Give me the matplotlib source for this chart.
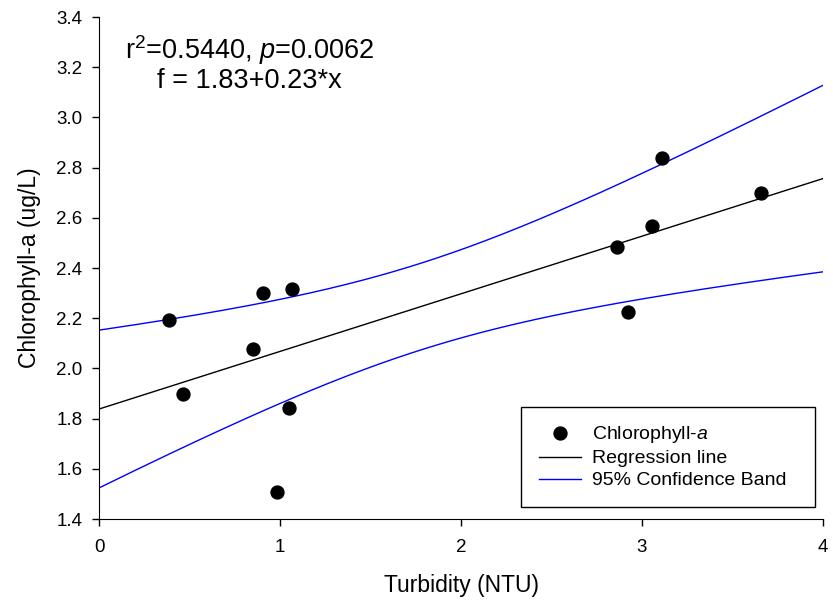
import numpy as np
import matplotlib
matplotlib.use('Agg')
import matplotlib.pyplot as plt

plt.rcParams['font.family'] = ['Liberation Sans', 'DejaVu Sans']
plt.rcParams['mathtext.fontset'] = 'custom'
plt.rcParams['mathtext.rm'] = 'Liberation Sans'
plt.rcParams['mathtext.it'] = 'Liberation Sans:italic'

# data
turbidity = [0.388, 0.462, 0.849, 0.906, 1.065, 1.051, 0.985,
             2.860, 3.054, 3.109, 2.921, 3.659]
chla = [2.193, 1.897, 2.078, 2.299, 2.316, 1.842, 1.509,
        2.485, 2.569, 2.838, 2.226, 2.698]
xticks = [0, 1, 2, 3, 4]
yticks = [1.4, 1.6, 1.8, 2.0, 2.2, 2.4, 2.6, 2.8, 3.0, 3.2, 3.4]

x = np.array(turbidity)
y = np.array(chla)
n = len(x)

# linear fit + 95% confidence band of the mean
b, a = np.polyfit(x, y, 1)
resid = y - (a + b * x)
s = np.sqrt(np.sum(resid ** 2) / (n - 2))
t95 = 2.228  # t(0.975, df=10)
xx = np.linspace(0, 4, 200)
yy = a + b * xx
se = s * np.sqrt(1.0 / n + (xx - x.mean()) ** 2 / np.sum((x - x.mean()) ** 2))

fig = plt.figure(figsize=(8.33, 6.05), dpi=100)
ax = fig.add_axes([0.1189, 0.1421, 0.8691, 0.8298])

ax.plot(x, y, 'o', color='black', markersize=9.3, label='Chlorophyll-$\\mathit{a}$', zorder=3)
ax.plot(xx, yy, color='black', linewidth=1, label='Regression line')
ax.plot(xx, yy + t95 * se, color='blue', linewidth=1, label='95% Confidence Band')
ax.plot(xx, yy - t95 * se, color='blue', linewidth=1)

ax.set_xlim(0, 4)
ax.set_ylim(1.4, 3.4)
ax.set_xticks(xticks)
ax.set_yticks(yticks)
ax.set_yticklabels(['%.1f' % v for v in yticks])
ax.spines['top'].set_visible(False)
ax.spines['right'].set_visible(False)
ax.tick_params(direction='out', length=5, width=1, labelsize=13.5, color='black')
ax.tick_params(axis='x', pad=9.5)
ax.tick_params(axis='y', pad=7)

ax.set_xlabel('Turbidity (NTU)', fontsize=16.5, labelpad=13)
ax.set_ylabel('Chlorophyll-a (ug/L)', fontsize=16.5, labelpad=11)

ax.text(0.829, 3.215, 'r$^2$=0.5440, $\\mathit{p}$=0.0062\nf = 1.83+0.23*x',
        fontsize=19.5, ha='center', va='center', linespacing=1.02)

leg = ax.legend(loc='lower left', bbox_to_anchor=(0.583, 0.024, 0.406, 0.2),
                mode='expand', borderaxespad=0,
                fontsize=14, fancybox=False, edgecolor='black', framealpha=1,
                handlelength=2.2, handletextpad=0.55, borderpad=0.9, labelspacing=0.23)
leg.get_frame().set_linewidth(1)

fig.savefig('out.png', dpi=100)
